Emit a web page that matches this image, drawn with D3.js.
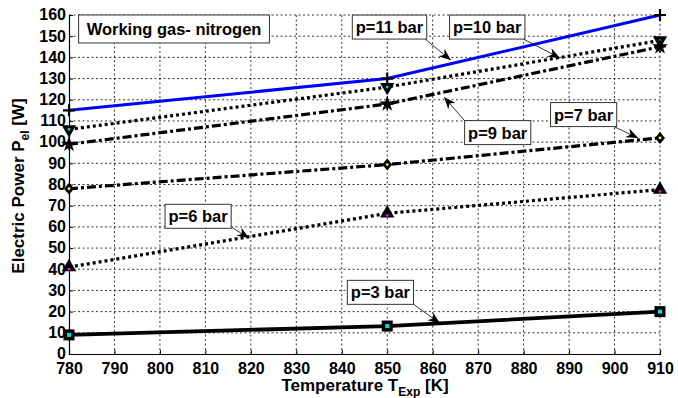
<!DOCTYPE html>
<html><head><meta charset="utf-8">
<script src="https://cdn.jsdelivr.net/npm/d3@7"></script>
<style>
body{margin:0;background:#fff;}
text{font-family:"Liberation Sans",Arial,sans-serif;font-weight:bold;}
</style></head>
<body><svg id="c" width="678" height="398"></svg>
<script>
const temps = [780, 850, 910];
const p11 = [115, 130, 160];
const p10 = [106, 126, 148];
const p9  = [99, 118, 145];
const p7  = [78, 89.4, 102];
const p6  = [41, 66.4, 77.6];
const p3  = [9, 13.2, 20];
const xTicks = [780,790,800,810,820,830,840,850,860,870,880,890,900,910];
const yTicks = [0,10,20,30,40,50,60,70,80,90,100,110,120,130,140,150,160];
const seriesNames = ["p=11 bar","p=10 bar","p=9 bar","p=7 bar","p=6 bar","p=3 bar"];
// annotations: text, box centre (T, P), arrow tail (T, P), arrow tip (T, P)
const annTexts = ["Working gas- nitrogen","p=11 bar","p=10 bar","p=9 bar","p=7 bar","p=6 bar","p=3 bar"];
const annBox  = [[803.1,153.4],[850.5,154.3],[872.0,154.3],[874.3,104.5],[893.2,113.0],[808.4,65.0],[848.5,29.1]];
const annTail = [null,[858.3,148.7],[879.9,148.7],[867.1,109.9],[900.1,107.1],[815.4,60.3],[855.5,23.9]];
const annTip  = [null,[864.0,138.7],[888.0,139.7],[862.5,121.3],[905.2,101.9],[819.6,54.7],[861.6,14.5]];

const svg = d3.select("#c");
const L = 69, R = 660, T = 15, B = 354;
const x = d3.scaleLinear().domain([780,910]).range([L,R]);
const y = d3.scaleLinear().domain([0,160]).range([B,T]);

// grid
const g = svg.append("g");
g.selectAll(".gx").data(xTicks.slice(1)).enter().append("line")
  .attr("x1",d=>x(d)).attr("x2",d=>x(d)).attr("y1",T).attr("y2",B)
  .attr("stroke","#000").attr("stroke-width",0.8).attr("stroke-dasharray","2,2.5");
g.selectAll(".gy").data(yTicks.slice(1)).enter().append("line")
  .attr("x1",L).attr("x2",R).attr("y1",d=>y(d)).attr("y2",d=>y(d))
  .attr("stroke","#000").attr("stroke-width",0.8).attr("stroke-dasharray","2,2.5");

// axes
const xa = svg.append("g").attr("transform",`translate(0,${B})`)
  .call(d3.axisBottom(x).tickValues(xTicks).tickSize(-4).tickPadding(11).tickFormat(d3.format("d")));
const ya = svg.append("g").attr("transform",`translate(${L},0)`)
  .call(d3.axisLeft(y).tickValues(yTicks).tickSize(-4).tickPadding(3).tickFormat(d3.format("d")));
[xa,ya].forEach(a=>{
  a.select(".domain").attr("stroke","#000").attr("stroke-width",1.2);
  a.selectAll(".tick line").attr("stroke","#000");
  a.selectAll(".tick text").attr("font-size",16).attr("fill","#000")
   .style("font-family","'Liberation Sans',Arial,sans-serif").style("font-weight","bold");
});
xa.selectAll(".tick text").attr("dy","0.55em");
ya.selectAll(".tick text").attr("dy","0.3em");

// axis labels
const xl = svg.append("text").attr("x",365).attr("y",391).attr("text-anchor","middle").attr("font-size",17);
xl.append("tspan").text("Temperature T");
xl.append("tspan").attr("font-size",12).attr("dy",5).text("Exp");
xl.append("tspan").attr("dy",-5).text(" [K]");
const yl = svg.append("text").attr("transform","translate(24,186) rotate(-90)").attr("text-anchor","middle").attr("font-size",17);
yl.append("tspan").text("Electric Power P");
yl.append("tspan").attr("font-size",12).attr("dy",5).text("el");
yl.append("tspan").attr("dy",-5).text(" [W]");

// series
const series = [
  {v:p11, color:"#0000ff", w:3, dash:null, marker:"plus"},
  {v:p10, color:"#000", w:3.2, dash:"3,3", marker:"tridown", fill:"#00e0e0"},
  {v:p9,  color:"#000", w:3.2, dash:"9,3,3,3", marker:"star"},
  {v:p7,  color:"#000", w:3.2, dash:"9,3,3,3", marker:"diamond", fill:"#ffff00"},
  {v:p6,  color:"#000", w:3.2, dash:"3,3", marker:"triup", fill:"#ff00ff"},
  {v:p3,  color:"#000", w:3.8, dash:null, marker:"square", fill:"#00e0e0"}
];
const line = d3.line().x((d,i)=>x(temps[i])).y(d=>y(d));
series.forEach((s,si)=>{
  svg.append("path").datum(s.v).attr("d",line).attr("fill","none")
    .attr("stroke",s.color).attr("stroke-width",s.w)
    .attr("stroke-dasharray",s.dash).attr("class","series").attr("data-name",seriesNames[si]);
  const mg = svg.append("g");
  s.v.forEach((v,i)=>{
    const cx = x(temps[i]), cy = y(v);
    const m = mg.append("g").attr("transform",`translate(${cx},${cy})`);
    if(s.marker==="plus"){
      m.append("path").attr("d","M-6,0H6M0,-6V6").attr("stroke","#000").attr("stroke-width",2.2);
    } else if(s.marker==="tridown"){
      m.append("path").attr("d",d3.symbol(d3.symbolTriangle,90)()).attr("transform","rotate(180)").attr("fill","#000");
      m.append("circle").attr("r",1.4).attr("fill",s.fill);
    } else if(s.marker==="triup"){
      m.append("path").attr("d",d3.symbol(d3.symbolTriangle,90)()).attr("fill","#000");
      m.append("circle").attr("cy",2).attr("r",1.4).attr("fill",s.fill);
    } else if(s.marker==="star"){
      m.append("path").attr("d",d3.symbol(d3.symbolStar,80)()).attr("fill","#000");
      m.append("path").attr("d","M-6,0H6M0,-6V6").attr("stroke","#000").attr("stroke-width",1.5);
    } else if(s.marker==="diamond"){
      m.append("path").attr("d","M0,-6L5,0L0,6L-5,0Z").attr("fill","#000");
      m.append("circle").attr("r",1.4).attr("fill",s.fill);
    } else if(s.marker==="square"){
      m.append("rect").attr("x",-5.5).attr("y",-5.5).attr("width",11).attr("height",11).attr("fill","#000");
      m.append("rect").attr("x",-2).attr("y",-2).attr("width",4).attr("height",4).attr("fill",s.fill);
    }
  });
});

// arrowhead marker
svg.append("defs").append("marker").attr("id","ah").attr("viewBox","0 0 10 10")
  .attr("refX",10).attr("refY",5).attr("markerWidth",12).attr("markerHeight",12)
  .attr("markerUnits","userSpaceOnUse").attr("orient","auto")
  .append("path").attr("d","M0,1L10,5L0,9L3,5Z").attr("fill","#000");

// annotations
annTexts.forEach((t,i)=>{
  if(annTail[i]){
    svg.append("line").attr("x1",x(annTail[i][0])).attr("y1",y(annTail[i][1]))
      .attr("x2",x(annTip[i][0])).attr("y2",y(annTip[i][1]))
      .attr("stroke","#000").attr("stroke-width",0.8).attr("marker-end","url(#ah)");
  }
  const cx = x(annBox[i][0]), cy = y(annBox[i][1]);
  const ag = svg.append("g");
  const r = ag.append("rect");
  const tx = ag.append("text").attr("x",cx).attr("y",cy).attr("dy","0.36em")
    .attr("text-anchor","middle").attr("font-size",16.5).attr("fill","#000").text(t);
  const w = tx.node().getComputedTextLength() + (i===0?16:7);
  const h = i===0?28:24;
  r.attr("x",cx-w/2).attr("y",cy-h/2).attr("width",w).attr("height",h)
    .attr("fill","#fff").attr("stroke","#333").attr("stroke-width",1);
});
</script></body></html>
